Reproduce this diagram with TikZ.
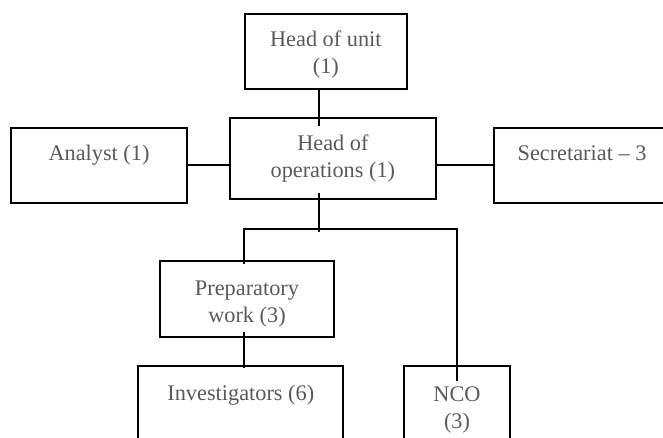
\documentclass[tikz,border=0pt]{standalone}
\usepackage{fontspec}
\setmainfont{Liberation Serif}
\usepackage{tikz}
\usetikzlibrary{positioning,calc}
\definecolor{orgtext}{HTML}{595959}
\definecolor{orgline}{HTML}{000000}
\tikzset{
  box/.style={draw=orgline,line width=1.9pt,inner sep=0pt},
  lbl/.style={text=orgtext,align=center,anchor=base,inner sep=0pt,font=\fontsize{22.3}{26.8}\selectfont},
  conn/.style={draw=orgline,line width=1.9pt},
}
\begin{document}
\begin{tikzpicture}[x=1pt,y=-1pt]
  \useasboundingbox (0,0) rectangle (663,438);
  % boxes
  \node[box,minimum width=161.7,minimum height=75.3] (unit) at (325.85,51.65) {};
  \node[box,minimum width=205.7,minimum height=80.7] (ops) at (332.85,158.65) {};
  \node[box,minimum width=176,minimum height=75.3] (analyst) at (99,165.35) {};
  \node[box,minimum width=176,minimum height=75.3] (secr) at (582,165.35) {};
  \node[box,minimum width=174,minimum height=75.7] (prep) at (247,298.85) {};
  \node[box,minimum width=205,minimum height=100] (inv) at (240.8,416) {};
  \node[box,minimum width=106,minimum height=100] (nco) at (457,416) {};
  % texts (base = last line)
  \node[lbl] (unitT) at ([yshift=-60]unit.north) {Head of unit\\(1)};
  \node[lbl] (opsT) at ([yshift=-59.7]ops.north) {Head of\\operations (1)};
  \node[lbl] (analystT) at ([yshift=-34]analyst.north) {Analyst (1)};
  \node[lbl] (secrT) at ([yshift=-34]secr.north) {Secretariat -- 3};
  \node[lbl] (prepT) at ([yshift=-62]prep.north) {Preparatory\\work (3)};
  \node[lbl] (invT) at ([yshift=-35.7]inv.north) {Investigators (6)};
  \node[lbl] (ncoT) at ([yshift=-63]nco.north) {NCO\\(3)};
  % columns of the connectors
  \coordinate (midx) at (318.7,0);
  \coordinate (lx) at (244.4,0);
  \coordinate (rx) at (457.3,0);
  \coordinate (bus) at (318.7,229);
  \draw[conn] (unit.south -| midx) -- ($(ops.north -| midx)+(0,8.7)$);
  \draw[conn] (analyst.east) -- (analyst.east -| ops.west);
  \draw[conn] (secr.west) -- (secr.west -| ops.east);
  \draw[conn] ($(ops.south -| midx)+(0,-7.3)$) -- ($(bus)+(0,2.7)$);
  \draw[conn] ($(prep.north -| lx)+(0,4)$) |- (bus -| rx) -- ($(nco.north -| rx)+(0,15.7)$);
  \draw[conn] ($(prep.south -| lx)+(0,-6)$) -- ($(inv.north -| lx)+(0,3.3)$);
\end{tikzpicture}
\end{document}
